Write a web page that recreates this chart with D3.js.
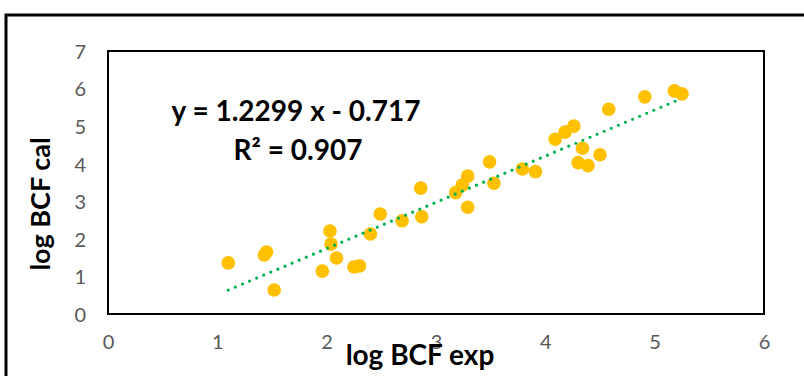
<!DOCTYPE html>
<html>
<head>
<meta charset="utf-8">
<script src="https://cdn.jsdelivr.net/npm/d3@7"></script>
<style>
  body { margin: 0; background: #fff; }
  svg { display: block; font-family: Lato, "Open Sans", sans-serif; }
</style>
</head>
<body>
<div id="viz-container"></div>
<script>
// log BCF experimental vs calculated
let logBcfExp = [1.10, 1.43, 1.45, 1.52, 1.96, 2.03, 2.04, 2.09, 2.25, 2.30, 2.40, 2.49,
  2.69, 2.86, 2.87, 3.18, 3.24, 3.29, 3.29, 3.49, 3.53, 3.79, 3.91, 4.09, 4.18, 4.26,
  4.34, 4.30, 4.39, 4.50, 4.58, 4.91, 5.18, 5.25];
let logBcfCal = [1.36, 1.57, 1.65, 0.64, 1.14, 2.21, 1.86, 1.49, 1.25, 1.28, 2.13, 2.66,
  2.48, 3.35, 2.59, 3.23, 3.43, 3.67, 2.84, 4.05, 3.48, 3.86, 3.79, 4.65, 4.84, 5.00,
  4.41, 4.03, 3.95, 4.24, 5.45, 5.78, 5.94, 5.86];

let xTicks = [0, 1, 2, 3, 4, 5, 6];
let yTicks = [0, 1, 2, 3, 4, 5, 6, 7];

let slope = 1.2299;
let intercept = -0.717;
let eqLabel = "y = 1.2299 x - 0.717";
let r2Label = "R² = 0.907";

let points = logBcfExp.map((d, i) => ({x: d, y: logBcfCal[i]}));

let W = 804, H = 376;
let plotL = 108, plotR = 764, plotT = 51, plotB = 314;

let viz = d3.select("#viz-container")
  .append("svg")
    .attr("width", W)
    .attr("height", H)
;

// outer chart border (runs off the right/bottom)
viz.append("rect")
    .attr("x", 6)
    .attr("y", 15)
    .attr("width", 900)
    .attr("height", 500)
    .attr("fill", "none")
    .attr("stroke", "#000")
    .attr("stroke-width", 3)
;

let x = d3.scaleLinear().domain([0, 6]).range([plotL, plotR]);
let y = d3.scaleLinear().domain([0, 7]).range([plotB, plotT]);

// plot area box
viz.append("rect")
    .attr("x", plotL)
    .attr("y", plotT)
    .attr("width", plotR - plotL)
    .attr("height", plotB - plotT)
    .attr("fill", "none")
    .attr("stroke", "#000")
    .attr("stroke-width", 2)
;

let xAxis = viz.append("g")
    .attr("transform", "translate(0," + (plotB + 28) + ")")
    .call(d3.axisBottom(x).tickValues(xTicks).tickSize(0).tickPadding(0).tickFormat(d3.format("d")));
xAxis.select(".domain").remove();
xAxis.selectAll("text")
    .attr("fill", "#595959")
    .attr("font-size", 20)
    .attr("font-family", "Lato")
    .attr("dy", "0.35em");

let yAxis = viz.append("g")
    .attr("transform", "translate(" + (plotL - 22) + ",1)")
    .call(d3.axisLeft(y).tickValues(yTicks).tickSize(0).tickPadding(0).tickFormat(d3.format("d")));
yAxis.select(".domain").remove();
yAxis.selectAll("text")
    .attr("fill", "#595959")
    .attr("font-size", 20)
    .attr("font-family", "Lato");

// axis titles
viz.append("text")
    .attr("x", 420)
    .attr("y", 365)
    .attr("text-anchor", "middle")
    .attr("font-size", 28)
    .attr("font-weight", "bold")
    .text("log BCF exp");

viz.append("text")
    .attr("transform", "translate(50,204) rotate(-90)")
    .attr("text-anchor", "middle")
    .attr("font-size", 27)
    .attr("font-weight", "bold")
    .text("log BCF cal");

// points
viz.append("g").selectAll("circle").data(points).enter()
  .append("circle")
    .attr("cx", d => x(d.x))
    .attr("cy", d => y(d.y))
    .attr("r", 6.8)
    .attr("fill", "#FFC000")
;

// linear trendline, dotted
let ext = d3.extent(logBcfExp);
let trend = ext.map(v => ({x: v, y: slope * v + intercept}));
viz.append("path")
    .datum(trend)
    .attr("d", d3.line().x(d => x(d.x)).y(d => y(d.y)))
    .attr("stroke", "#00B050")
    .attr("stroke-width", 3.2)
    .attr("stroke-linecap", "round")
    .attr("stroke-dasharray", "0,7.7")
    .attr("fill", "none")
;

// equation label
viz.append("text")
    .attr("x", 296)
    .attr("y", 121)
    .attr("text-anchor", "middle")
    .attr("font-size", 28)
    .attr("font-weight", "bold")
    .text(eqLabel);

viz.append("text")
    .attr("x", 298)
    .attr("y", 160)
    .attr("text-anchor", "middle")
    .attr("font-size", 28)
    .attr("font-weight", "bold")
    .text(r2Label);
</script>
</body>
</html>
